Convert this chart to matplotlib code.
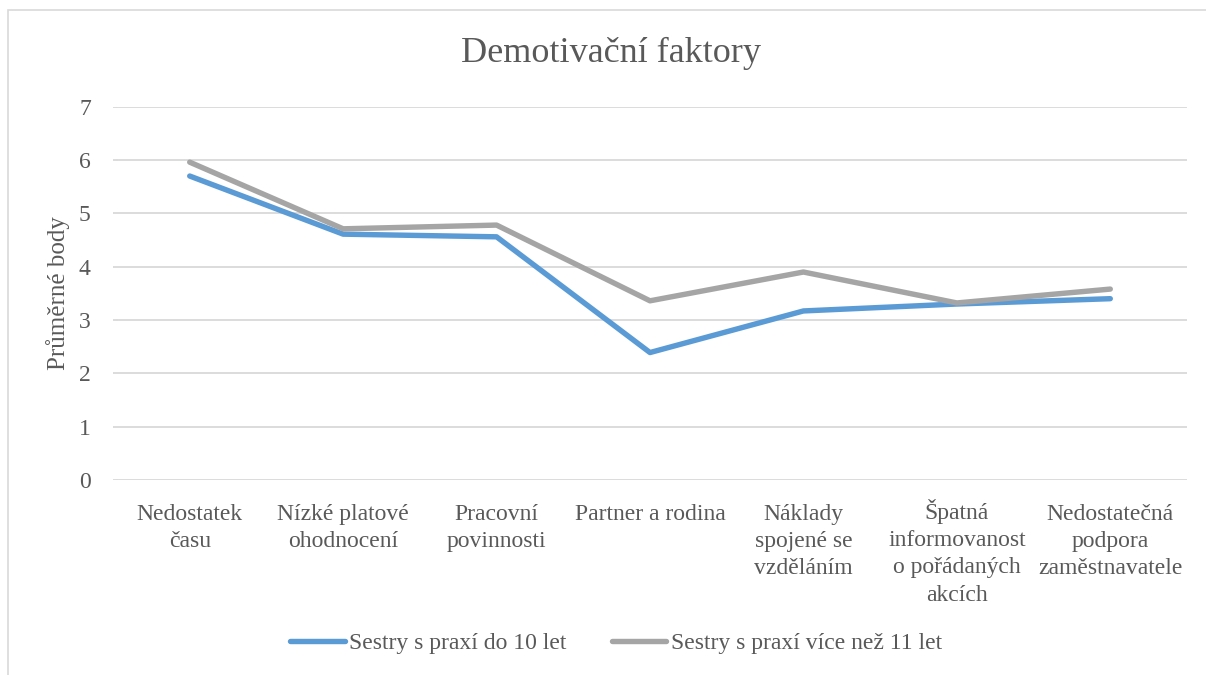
import matplotlib
matplotlib.use("Agg")

import matplotlib.pyplot as plt
from matplotlib.patches import Rectangle
from matplotlib.transforms import ScaledTranslation

plt.rcParams["font.family"] = ["Liberation Serif", "DejaVu Serif"]

# Data
categories = [
    "Nedostatek\nčasu",
    "Nízké platové\nohodnocení",
    "Pracovní\npovinnosti",
    "Partner a rodina",
    "Náklady\nspojené se\nvzděláním",
    "Špatná\ninformovanost\no pořádaných\nakcích",
    "Nedostatečná\npodpora\nzaměstnavatele",
]
do_10_let = [5.70, 4.61, 4.56, 2.39, 3.17, 3.30, 3.40]
nad_11_let = [5.96, 4.71, 4.78, 3.36, 3.90, 3.32, 3.58]
y_ticks = [0, 1, 2, 3, 4, 5, 6, 7]

TEXT = "#595959"
BLUE = "#5B9BD5"
GRAY = "#A5A5A5"
GRID = "#D9D9D9"

fig = plt.figure(figsize=(12.06, 6.75), dpi=100)
ax = fig.add_axes([113 / 1206, 1 - 480 / 675, 1074 / 1206, (480 - 106.7) / 675])

x = range(len(categories))
ax.plot(x, do_10_let, color=BLUE, lw=3.9, solid_capstyle="round",
        solid_joinstyle="round", label="Sestry s praxí do 10 let")
ax.plot(x, nad_11_let, color=GRAY, lw=3.9, solid_capstyle="round",
        solid_joinstyle="round", label="Sestry s praxí více než 11 let")

ax.set_xlim(-0.5, len(categories) - 0.5)
ax.set_ylim(0, 7)
ax.set_yticks(y_ticks)
ax.set_xticks(list(x))
ax.set_xticklabels(categories, fontsize=17, color=TEXT, linespacing=1.4, va="top")
ax.tick_params(axis="y", labelsize=17, labelcolor=TEXT, length=0, pad=16)
ax.tick_params(axis="x", length=0, pad=17)
ax.grid(axis="y", color=GRID, lw=1.3)
ax.set_axisbelow(True)
for s in ax.spines.values():
    s.set_visible(False)

# the caron on Š makes that label sit lower; nudge it back level with the rest
for lab in ax.get_xticklabels():
    if lab.get_text().startswith("Š"):
        lab.set_transform(lab.get_transform()
                          + ScaledTranslation(0, 5 / 100, fig.dpi_scale_trans))

ax.set_ylabel("Průměrné body", fontsize=18, color=TEXT)
ax.yaxis.set_label_coords(-0.040, 0.5)

fig.text(611 / 1206, 1 - 53 / 675, "Demotivační faktory", fontsize=26,
         color=TEXT, ha="center", va="center")

fig.legend(loc="center", bbox_to_anchor=(616 / 1206, 1 - 643 / 675), ncol=2,
           frameon=False, fontsize=17, handlelength=2.3, handletextpad=0.2,
           columnspacing=1.9, labelcolor=TEXT)

# light chart border (runs off the right and bottom edges)
fig.patches.append(Rectangle((8 / 1206, -0.1), 1.2, 1.1 - 10 / 675,
                             transform=fig.transFigure, fill=False,
                             edgecolor=GRID, lw=1.2))

plt.savefig("out.png", dpi=100)
plt.close()
